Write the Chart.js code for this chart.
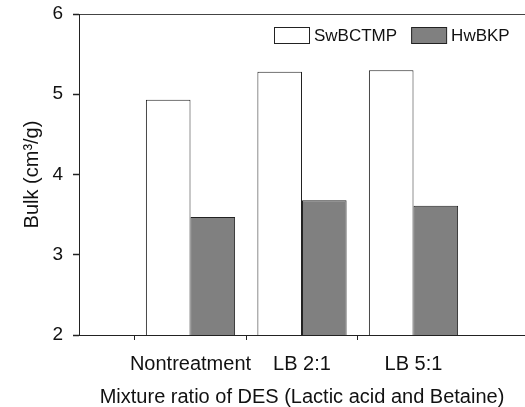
<!DOCTYPE html>
<html>
<head>
<meta charset="utf-8">
<script src="https://cdn.jsdelivr.net/npm/chart.js@4.4.1/dist/chart.umd.min.js"></script>
<style>
  html, body { margin: 0; padding: 0; background: #fff; }
</style>
</head>
<body>
<canvas id="bulk" width="525" height="407"></canvas>
<script>
// categories (empty slots at both ends keep the groups off the axes)
const categories = ['', 'Nontreatment', 'LB 2:1', 'LB 5:1', ''];
const swbctmp = [null, 4.93, 5.28, 5.30, null];
const hwbkp = [null, 3.47, 3.68, 3.61, null];
const yTicks = [2, 3, 4, 5, 6];

const FONT = "'Liberation Sans', Arial, sans-serif";

// legend drawn inside the plot, top right
const insideLegend = {
    id: 'insideLegend',
    afterDraw(chart) {
        const ctx = chart.ctx;
        const area = chart.chartArea;
        const boxW = 35, boxH = 16, gap = 5, itemGap = 14;
        ctx.save();
        ctx.font = '17px ' + FONT;
        let total = 0;
        chart.data.datasets.forEach((ds, i) => {
            total += boxW + gap + ctx.measureText(ds.label).width;
            if (i > 0) total += itemGap;
        });
        let x = Math.round(area.right - 15 - total);
        const y = area.top + 21;
        chart.data.datasets.forEach(ds => {
            ctx.fillStyle = ds.backgroundColor;
            ctx.fillRect(x + 0.5, y - boxH / 2 + 0.5, boxW, boxH);
            ctx.strokeStyle = '#222';
            ctx.lineWidth = 1;
            ctx.strokeRect(x + 0.5, y - boxH / 2 + 0.5, boxW, boxH);
            x += boxW + gap;
            ctx.fillStyle = '#111';
            ctx.textBaseline = 'middle';
            ctx.textAlign = 'left';
            ctx.fillText(ds.label, x, y + 1);
            x += ctx.measureText(ds.label).width + itemGap;
        });
        ctx.restore();
    }
};

new Chart(document.getElementById('bulk').getContext('2d'), {
    type: 'bar',
    data: {
        labels: categories,
        datasets: [
            {
                label: 'SwBCTMP',
                data: swbctmp,
                backgroundColor: '#ffffff',
                borderColor: '#222222',
                borderWidth: 1,
                borderSkipped: false
            },
            {
                label: 'HwBKP',
                data: hwbkp,
                backgroundColor: '#808080',
                borderColor: '#222222',
                borderWidth: 1,
                borderSkipped: false
            }
        ]
    },
    options: {
        responsive: false,
        animation: false,
        devicePixelRatio: 1,
        layout: { padding: { top: 14, right: 0, bottom: 0, left: 0 } },
        plugins: {
            legend: { display: false },
            tooltip: { enabled: false }
        },
        datasets: {
            bar: { categoryPercentage: 0.8, barPercentage: 1.0 }
        },
        scales: {
            x: {
                offset: false,
                afterFit: s => { s.height = 72; s.paddingLeft = 0; s.paddingRight = 0; },
                border: { color: '#222', width: 1 },
                grid: {
                    drawOnChartArea: false,
                    tickLength: 5,
                    color: '#222',
                    tickColor: c => (c.index === 0 || c.index === categories.length - 1) ? 'rgba(0,0,0,0)' : '#222'
                },
                ticks: {
                    color: '#111',
                    padding: 12,
                    maxRotation: 0,
                    autoSkip: false,
                    font: { family: FONT, size: 20 }
                },
                title: {
                    display: true,
                    text: 'Mixture ratio of DES (Lactic acid and Betaine)',
                    color: '#111',
                    padding: 0,
                    font: { family: FONT, size: 20, lineHeight: 1 }
                }
            },
            y: {
                min: yTicks[0],
                max: yTicks[yTicks.length - 1],
                afterFit: s => { s.width = 79; s.paddingTop = 0; s.paddingBottom = 0; },
                afterBuildTicks: s => { s.ticks = yTicks.map(v => ({ value: v })); },
                border: { color: '#222', width: 1 },
                grid: {
                    tickLength: 6,
                    tickWidth: 1.5,
                    color: c => (c.tick && c.tick.value === yTicks[yTicks.length - 1]) ? '#444' : 'rgba(0,0,0,0)',
                    tickColor: '#222'
                },
                ticks: {
                    color: '#111',
                    padding: 10,
                    font: { family: FONT, size: 19 }
                },
                title: {
                    display: true,
                    text: 'Bulk (cm³/g)',
                    color: '#111',
                    padding: { top: 22, bottom: 0 },
                    font: { family: FONT, size: 20, lineHeight: 1 }
                }
            }
        }
    },
    plugins: [insideLegend]
});
</script>
</body>
</html>
